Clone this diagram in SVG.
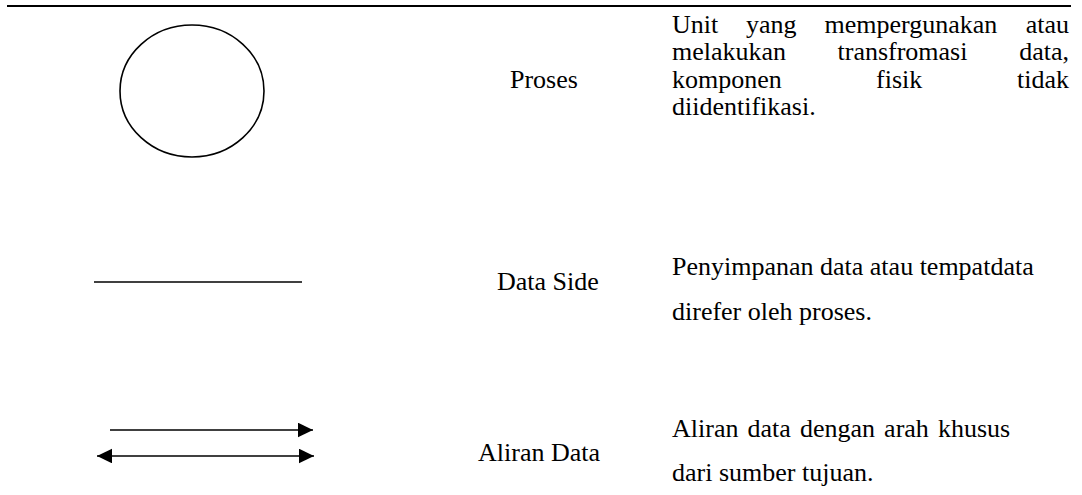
<svg xmlns="http://www.w3.org/2000/svg" width="1082" height="495" viewBox="0 0 1082 495">
  <style>
    .txt { font-family: "Liberation Serif", "Times New Roman", serif; font-size: 26px; fill: #000; }
    .end { text-anchor: end; }
    .shape { fill: none; stroke: #000; }
  </style>
  <defs>
    <marker id="head" markerUnits="userSpaceOnUse" markerWidth="15" markerHeight="15" refX="15" refY="7.3" orient="auto-start-reverse">
      <path d="M0,0 L15,7.3 L0,14.6 Z" fill="#000"/>
    </marker>
  </defs>
  <rect width="1082" height="495" fill="#fff"/>

  <!-- table top rule -->
  <line x1="7" y1="6" x2="1071" y2="6" stroke="#000" stroke-width="2"/>

  <!-- row 1: process symbol -->
  <g id="proses">
    <ellipse class="shape" cx="192" cy="91" rx="72" ry="66" stroke-width="1.6"/>
    <text class="txt" x="510" y="87.5">Proses</text>
    <!-- justified description, word by word -->
    <text class="txt" x="672" y="32.5">Unit</text>
    <text class="txt" x="746" y="32.5">yang</text>
    <text class="txt" x="824.5" y="32.5">mempergunakan</text>
    <text class="txt end" x="1069" y="32.5">atau</text>
    <text class="txt" x="672" y="60">melakukan</text>
    <text class="txt" x="837.5" y="60">transfromasi</text>
    <text class="txt end" x="1069" y="60">data,</text>
    <text class="txt" x="672" y="87.5">komponen</text>
    <text class="txt" x="876" y="87.5">fisik</text>
    <text class="txt end" x="1069" y="87.5">tidak</text>
    <text class="txt" x="672" y="115">diidentifikasi.</text>
  </g>

  <!-- row 2: data store symbol -->
  <g id="data-side">
    <line class="shape" x1="94" y1="282" x2="302" y2="282" stroke-width="1.4"/>
    <text class="txt" x="497" y="290">Data Side</text>
    <text class="txt" x="672" y="275">Penyimpanan data atau tempatdata</text>
    <text class="txt" x="672" y="320">direfer oleh proses.</text>
  </g>

  <!-- row 3: data flow symbols -->
  <g id="aliran-data">
    <text class="txt" x="478" y="461">Aliran Data</text>
    <text class="txt" x="672" y="437" word-spacing="2.6">Aliran data dengan arah khusus</text>
    <text class="txt" x="672" y="481">dari sumber tujuan.</text>
  </g>

  <g id="connectors">
    <line class="shape" x1="110" y1="430" x2="313" y2="430" stroke-width="1.4" marker-end="url(#head)"/>
    <line class="shape" x1="97" y1="456" x2="314" y2="456" stroke-width="1.4" marker-start="url(#head)" marker-end="url(#head)"/>
  </g>
</svg>
